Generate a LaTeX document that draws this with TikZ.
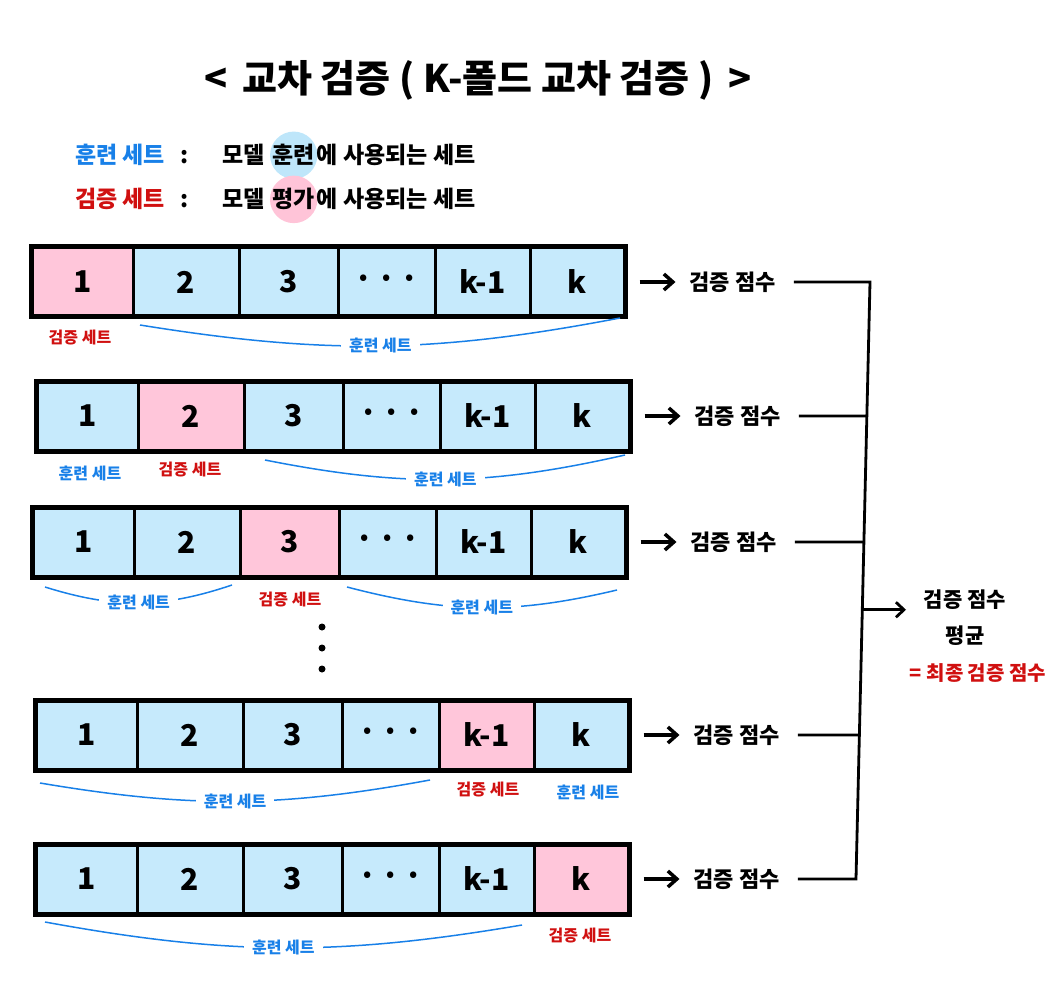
\documentclass[tikz,border=0pt]{standalone}
\usepackage{fontspec}
\setmainfont{Noto Sans CJK KR}
\usetikzlibrary{arrows.meta, calc, positioning}
\definecolor{trainBlue}{RGB}{198, 234, 252}
\definecolor{validPink}{RGB}{255, 198, 218}
\definecolor{trainText}{RGB}{24, 128, 232}
\definecolor{validText}{RGB}{208, 16, 16}
\definecolor{markBlue}{RGB}{190, 230, 250}
\definecolor{markPink}{RGB}{255, 196, 216}
\newcommand{\sz}[1]{\fontsize{#1}{#1}\selectfont\bfseries}

\begin{document}
\begin{tikzpicture}[x=1pt, y=-1pt,
  cell/.style={draw, line width=3pt, minimum height=68pt, inner sep=0pt, font=\sz{30}},
  score/.style={inner sep=0pt, font=\sz{22}},
  scorearrow/.style={line width=3.5pt, -{Straight Barb[length=9pt, width=16pt]}},
  joinline/.style={line width=2.8pt},
  trainlab/.style={text=trainText, font=\sz{16}, inner sep=1pt},
  validlab/.style={text=validText, font=\sz{16}, inner sep=1pt},
  brace/.style={trainText, line width=1.5pt},
  legend/.style={anchor=base west, inner sep=0pt, font=\sz{23}},
  hilite/.style={circle, inner sep=0pt, anchor=base, font=\sz{23}}
]
\useasboundingbox (0,0) rectangle (1063,1000);

% Title
\node[font=\sz{38}] (title) at (478,80) {<\, 교차 검증 ( K-폴드 교차 검증 ) \,>};

% Legend
\node[legend, text=trainText] (lgt) at (75,164) {훈련 세트};
\node[legend] (lgtc) at (180,164) {:};
\node[legend] (lgtm) at (222,164) {모델};
\node[hilite, fill=markBlue] (lgth) at ([xshift=29pt]lgtm.base east) {훈련};
\node[legend] (lgtr) at ([xshift=23pt]lgth.base) {에 사용되는 세트};
\node[legend, text=validText] (lgv) at (75,208) {검증 세트};
\node[legend] (lgvc) at (180,208) {:};
\node[legend] (lgvm) at (222,208) {모델};
\node[hilite, fill=markPink] (lgvh) at ([xshift=29pt]lgvm.base east) {평가};
\node[legend] (lgvr) at ([xshift=23pt]lgvh.base) {에 사용되는 세트};

% Folds
\foreach \r/\xo/\yc/\v in {1/32/282/1, 2/37/416/2, 3/33/542/3, 4/36/735/5, 5/36/879/6} {
  \foreach \c/\a/\b/\t in {1/0/101/1, 2/101/207/2, 3/207/306/3, 4/306/403/{·\,·\,·}, 5/403/498/k-1, 6/498/592/k} {
    \pgfmathsetmacro\cx{\xo+(\a+\b)/2}
    \pgfmathsetmacro\cw{\b-\a}
    \ifnum\c=\v \def\cf{validPink}\else \def\cf{trainBlue}\fi
    \node[cell, fill=\cf, minimum width=\cw pt] (r\r-\c) at (\cx,\yc) {\t};
  }
  \draw[line width=4pt] (r\r-1.north west) rectangle (r\r-6.south east);
  \node[score, anchor=west] (s\r) at ([xshift=64pt]r\r-6.east) {검증 점수};
  \draw[scorearrow] ([xshift=14pt]r\r-6.east) -- ([xshift=-14pt]s\r.west);
}

% Vertical dots
\foreach \y in {627,648,669} \fill (322,\y) circle (3.5pt);

% Set labels under the folds
\node[validlab] (v1) at (80,338) {검증 세트};
\coordinate (b1l) at (140,325); \coordinate (b1r) at (620,318);
\draw[brace] (b1l) to[bend right=10] node[trainlab, fill=white, inner xsep=8pt, midway] (t1) {훈련 세트} (b1r);

\node[trainlab] (t2a) at (90,473) {훈련 세트};
\node[validlab] (v2) at (190,470) {검증 세트};
\coordinate (b2l) at (265,460); \coordinate (b2r) at (625,455);
\draw[brace] (b2l) to[bend right=12] node[trainlab, fill=white, inner xsep=8pt, midway] (t2b) {훈련 세트} (b2r);

\coordinate (b3l) at (45,587); \coordinate (b3m) at (232,585);
\draw[brace] (b3l) to[bend right=18] node[trainlab, fill=white, inner xsep=8pt, midway] (t3a) {훈련 세트} (b3m);
\node[validlab] (v3) at (290,600) {검증 세트};
\coordinate (b3n) at (347,587); \coordinate (b3r) at (617,590);
\draw[brace] (b3n) to[bend right=14] node[trainlab, fill=white, inner xsep=8pt, midway] (t3b) {훈련 세트} (b3r);

\coordinate (b4l) at (40,783); \coordinate (b4r) at (430,780);
\draw[brace] (b4l) to[bend right=10] node[trainlab, fill=white, inner xsep=8pt, midway] (t4a) {훈련 세트} (b4r);
\node[validlab] (v4) at (488,790) {검증 세트};
\node[trainlab] (t4b) at (588,792) {훈련 세트};

\coordinate (b5l) at (45,922); \coordinate (b5r) at (522,925);
\draw[brace] (b5l) to[bend right=10] node[trainlab, fill=white, inner xsep=8pt, midway] (t5) {훈련 세트} (b5r);
\node[validlab] (v5) at (580,936) {검증 세트};

% Joining the scores
\coordinate (jt) at (870,282);
\coordinate (jb) at (856,879);
\draw[joinline] ([xshift=18pt]s1.east) -- (jt) -- (jb) -- ([xshift=18pt]s5.east);
\foreach \r/\t in {2/0.2245, 3/0.4355, 4/0.7588}
  \draw[joinline] ([xshift=18pt]s\r.east) -- ($(jt)!\t!(jb)$);

% Average of the scores
\coordinate (jm) at ($(jt)!0.549!(jb)$);
\coordinate (avgin) at (906,610);
\node[score, font=\sz{21}] (avg1) at (965,600) {검증 점수};
\node[score, font=\sz{21}] (avg2) at (965,636) {평균};
\node[score, font=\sz{20}, text=validText] (avg3) at (978,673) {= 최종 검증 점수};
\draw[joinline, -{Straight Barb[length=8pt, width=15pt]}] (jm) -- (jm -| avgin);
\end{tikzpicture}
\end{document}
